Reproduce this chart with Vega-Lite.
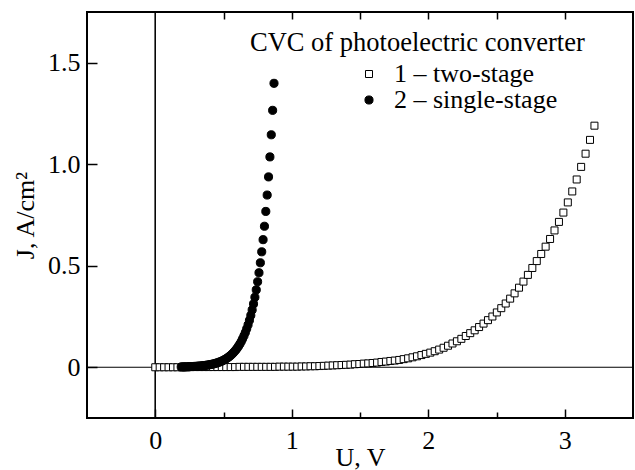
{
  "$schema": "https://vega.github.io/schema/vega-lite/v6.json",
  "width": 546,
  "height": 406,
  "autosize": "none",
  "padding": {"left": 87, "top": 12, "right": 2, "bottom": 52},
  "background": "white",
  "config": {
    "view": {"stroke": "black", "strokeWidth": 2},
    "axis": {
      "domain": false, "grid": false,
      "labelFont": "Liberation Serif", "labelFontSize": 26, "labelColor": "black",
      "titleFont": "Liberation Serif", "titleFontSize": 26, "titleFontWeight": "normal", "titleColor": "black",
      "tickColor": "black", "tickWidth": 1.5
    },
    "legend": {
      "labelFont": "Liberation Serif", "labelFontSize": 26, "labelColor": "black", "labelLimit": 0,
      "symbolStrokeWidth": 1,
      "padding": 0, "rowPadding": 0, "labelOffset": 12
    }
  },
  "title": {
    "text": "CVC of photoelectric converter",
    "anchor": "start", "frame": "group", "orient": "top", "offset": 0,
    "dx": 163, "dy": 66, "baseline": "alphabetic",
    "font": "Liberation Serif", "fontSize": 26.5, "fontWeight": "normal", "color": "black"
  },
  "datasets": {
    "zero": [{"z": 0}],
    "pts": [
      {"U":0.0,"J":0.0,"s":"1"},{"U":0.0325,"J":0.0,"s":"1"},{"U":0.065,"J":0.0,"s":"1"},{"U":0.0975,"J":0.0,"s":"1"},{"U":0.13,"J":0.0,"s":"1"},
      {"U":0.1625,"J":0.0,"s":"1"},{"U":0.195,"J":0.0,"s":"1"},{"U":0.2275,"J":0.0,"s":"1"},{"U":0.26,"J":0.001,"s":"1"},{"U":0.2925,"J":0.001,"s":"1"},
      {"U":0.325,"J":0.001,"s":"1"},{"U":0.3575,"J":0.001,"s":"1"},{"U":0.39,"J":0.001,"s":"1"},{"U":0.4225,"J":0.001,"s":"1"},{"U":0.455,"J":0.001,"s":"1"},
      {"U":0.4875,"J":0.001,"s":"1"},{"U":0.52,"J":0.001,"s":"1"},{"U":0.5525,"J":0.001,"s":"1"},{"U":0.585,"J":0.001,"s":"1"},{"U":0.6175,"J":0.002,"s":"1"},
      {"U":0.65,"J":0.002,"s":"1"},{"U":0.6825,"J":0.002,"s":"1"},{"U":0.715,"J":0.002,"s":"1"},{"U":0.7475,"J":0.002,"s":"1"},{"U":0.78,"J":0.002,"s":"1"},
      {"U":0.8125,"J":0.002,"s":"1"},{"U":0.845,"J":0.002,"s":"1"},{"U":0.8775,"J":0.002,"s":"1"},{"U":0.91,"J":0.003,"s":"1"},{"U":0.9425,"J":0.003,"s":"1"},
      {"U":0.975,"J":0.003,"s":"1"},{"U":1.0075,"J":0.003,"s":"1"},{"U":1.04,"J":0.003,"s":"1"},{"U":1.0725,"J":0.004,"s":"1"},{"U":1.105,"J":0.004,"s":"1"},
      {"U":1.1375,"J":0.005,"s":"1"},{"U":1.17,"J":0.005,"s":"1"},{"U":1.2025,"J":0.006,"s":"1"},{"U":1.235,"J":0.007,"s":"1"},{"U":1.2675,"J":0.008,"s":"1"},
      {"U":1.3,"J":0.009,"s":"1"},{"U":1.3325,"J":0.01,"s":"1"},{"U":1.365,"J":0.011,"s":"1"},{"U":1.3975,"J":0.012,"s":"1"},{"U":1.43,"J":0.013,"s":"1"},
      {"U":1.4625,"J":0.015,"s":"1"},{"U":1.495,"J":0.016,"s":"1"},{"U":1.5275,"J":0.018,"s":"1"},{"U":1.56,"J":0.019,"s":"1"},{"U":1.5925,"J":0.021,"s":"1"},
      {"U":1.625,"J":0.023,"s":"1"},{"U":1.6575,"J":0.026,"s":"1"},{"U":1.69,"J":0.028,"s":"1"},{"U":1.7225,"J":0.031,"s":"1"},{"U":1.755,"J":0.033,"s":"1"},
      {"U":1.7875,"J":0.036,"s":"1"},{"U":1.82,"J":0.04,"s":"1"},{"U":1.8525,"J":0.044,"s":"1"},{"U":1.885,"J":0.049,"s":"1"},{"U":1.9175,"J":0.054,"s":"1"},
      {"U":1.95,"J":0.06,"s":"1"},{"U":1.9825,"J":0.066,"s":"1"},{"U":2.015,"J":0.072,"s":"1"},{"U":2.0475,"J":0.079,"s":"1"},{"U":2.08,"J":0.087,"s":"1"},
      {"U":2.1125,"J":0.096,"s":"1"},{"U":2.145,"J":0.106,"s":"1"},{"U":2.1775,"J":0.117,"s":"1"},{"U":2.21,"J":0.128,"s":"1"},{"U":2.2425,"J":0.14,"s":"1"},
      {"U":2.275,"J":0.154,"s":"1"},{"U":2.3075,"J":0.168,"s":"1"},{"U":2.34,"J":0.182,"s":"1"},{"U":2.3725,"J":0.198,"s":"1"},{"U":2.405,"J":0.215,"s":"1"},
      {"U":2.4375,"J":0.232,"s":"1"},{"U":2.47,"J":0.25,"s":"1"},{"U":2.5025,"J":0.27,"s":"1"},{"U":2.535,"J":0.291,"s":"1"},{"U":2.5675,"J":0.314,"s":"1"},
      {"U":2.6,"J":0.338,"s":"1"},{"U":2.6325,"J":0.364,"s":"1"},{"U":2.665,"J":0.392,"s":"1"},{"U":2.6975,"J":0.422,"s":"1"},{"U":2.73,"J":0.455,"s":"1"},
      {"U":2.7625,"J":0.489,"s":"1"},{"U":2.795,"J":0.523,"s":"1"},{"U":2.8275,"J":0.558,"s":"1"},{"U":2.86,"J":0.594,"s":"1"},{"U":2.8925,"J":0.632,"s":"1"},
      {"U":2.925,"J":0.674,"s":"1"},{"U":2.9575,"J":0.716,"s":"1"},{"U":2.99,"J":0.762,"s":"1"},{"U":3.0225,"J":0.812,"s":"1"},{"U":3.055,"J":0.866,"s":"1"},
      {"U":3.0875,"J":0.925,"s":"1"},{"U":3.12,"J":0.987,"s":"1"},{"U":3.1525,"J":1.052,"s":"1"},{"U":3.185,"J":1.12,"s":"1"},{"U":3.2175,"J":1.19,"s":"1"},
      {"U":0.19,"J":0.0016,"s":"2"},{"U":0.2,"J":0.0017,"s":"2"},{"U":0.21,"J":0.0019,"s":"2"},{"U":0.22,"J":0.0021,"s":"2"},{"U":0.23,"J":0.0023,"s":"2"},
      {"U":0.24,"J":0.0026,"s":"2"},{"U":0.25,"J":0.0028,"s":"2"},{"U":0.26,"J":0.0031,"s":"2"},{"U":0.27,"J":0.0035,"s":"2"},{"U":0.28,"J":0.0038,"s":"2"},
      {"U":0.29,"J":0.0042,"s":"2"},{"U":0.3,"J":0.0047,"s":"2"},{"U":0.31,"J":0.0052,"s":"2"},{"U":0.32,"J":0.0057,"s":"2"},{"U":0.33,"J":0.0063,"s":"2"},
      {"U":0.34,"J":0.007,"s":"2"},{"U":0.35,"J":0.0077,"s":"2"},{"U":0.36,"J":0.0085,"s":"2"},{"U":0.37,"J":0.0094,"s":"2"},{"U":0.38,"J":0.0104,"s":"2"},
      {"U":0.39,"J":0.0115,"s":"2"},{"U":0.4,"J":0.0127,"s":"2"},{"U":0.41,"J":0.0141,"s":"2"},{"U":0.42,"J":0.0155,"s":"2"},{"U":0.43,"J":0.0172,"s":"2"},
      {"U":0.44,"J":0.019,"s":"2"},{"U":0.45,"J":0.021,"s":"2"},{"U":0.46,"J":0.0232,"s":"2"},{"U":0.47,"J":0.0256,"s":"2"},{"U":0.48,"J":0.0283,"s":"2"},
      {"U":0.49,"J":0.0313,"s":"2"},{"U":0.5,"J":0.0346,"s":"2"},{"U":0.51,"J":0.0382,"s":"2"},{"U":0.52,"J":0.0422,"s":"2"},{"U":0.53,"J":0.0467,"s":"2"},
      {"U":0.54,"J":0.0516,"s":"2"},{"U":0.55,"J":0.057,"s":"2"},{"U":0.56,"J":0.063,"s":"2"},{"U":0.57,"J":0.0696,"s":"2"},{"U":0.58,"J":0.077,"s":"2"},
      {"U":0.59,"J":0.0851,"s":"2"},{"U":0.6,"J":0.094,"s":"2"},{"U":0.61,"J":0.1039,"s":"2"},{"U":0.62,"J":0.1148,"s":"2"},{"U":0.63,"J":0.1269,"s":"2"},
      {"U":0.64,"J":0.1402,"s":"2"},{"U":0.65,"J":0.155,"s":"2"},{"U":0.66,"J":0.1713,"s":"2"},{"U":0.67,"J":0.1893,"s":"2"},{"U":0.68,"J":0.2092,"s":"2"},
      {"U":0.69,"J":0.2312,"s":"2"},{"U":0.7,"J":0.2555,"s":"2"},{"U":0.71,"J":0.2824,"s":"2"},{"U":0.72,"J":0.3121,"s":"2"},{"U":0.73,"J":0.3449,"s":"2"},
      {"U":0.74,"J":0.3812,"s":"2"},{"U":0.75,"J":0.4213,"s":"2"},{"U":0.76,"J":0.4656,"s":"2"},{"U":0.77,"J":0.5146,"s":"2"},{"U":0.78,"J":0.5687,"s":"2"},
      {"U":0.79,"J":0.6285,"s":"2"},{"U":0.8,"J":0.6946,"s":"2"},{"U":0.81,"J":0.7676,"s":"2"},{"U":0.82,"J":0.8483,"s":"2"},{"U":0.83,"J":0.9376,"s":"2"},
      {"U":0.84,"J":1.0362,"s":"2"},{"U":0.85,"J":1.1451,"s":"2"},{"U":0.86,"J":1.2656,"s":"2"},{"U":0.87,"J":1.3987,"s":"2"}
    ]
  },
  "resolve": {"axis": {"x": "independent"}},
  "layer": [
    {
      "data": {"name": "zero"},
      "mark": {"type": "rule", "color": "black", "strokeWidth": 1.2},
      "encoding": {
        "x": {"field": "z", "type": "quantitative", "scale": {"domain": [-0.5, 3.5], "nice": false, "zero": false},
          "axis": {"orient": "bottom", "values": [0.5, 1.5, 2.5], "tickSize": -6, "labels": false, "title": null}}
      }
    },
    {
      "data": {"name": "zero"},
      "mark": {"type": "rule", "color": "black", "strokeWidth": 1.2},
      "encoding": {
        "x": {"field": "z", "type": "quantitative", "scale": {"domain": [-0.5, 3.5], "nice": false, "zero": false},
          "axis": {"orient": "top", "values": [0.5, 1, 1.5, 2, 2.5, 3], "tickSize": -7, "labels": false, "title": null}}
      }
    },
    {
      "data": {"name": "zero"},
      "mark": {"type": "rule", "color": "black", "strokeWidth": 1.2},
      "encoding": {
        "y": {"field": "z", "type": "quantitative", "scale": {"domain": [-0.25, 1.75], "nice": false, "zero": false}}
      }
    },
    {
      "data": {"name": "pts"},
      "mark": {"type": "point", "filled": true, "strokeWidth": 1, "opacity": 1},
      "encoding": {
        "x": {"field": "U", "type": "quantitative", "scale": {"domain": [-0.5, 3.5], "nice": false, "zero": false},
          "axis": {"orient": "bottom", "values": [0, 1, 2, 3], "tickSize": -9, "labelPadding": 18, "title": "U, V", "titlePadding": -9}},
        "y": {"field": "J", "type": "quantitative", "scale": {"domain": [-0.25, 1.75], "nice": false, "zero": false},
          "axis": {"values": [0, 0.5, 1, 1.5], "tickSize": -10, "labelPadding": 17,
            "labelExpr": "datum.value == 0 ? '0' : format(datum.value, '.1f')",
            "title": "J, A/cm²", "titlePadding": 9}},
        "shape": {"field": "s", "type": "nominal", "scale": {"domain": ["1", "2"], "range": ["square", "circle"]},
          "legend": {"orient": "none", "legendX": 269, "legendY": 49, "title": null,
            "labelExpr": "datum.value == '1' ? '1 – two-stage' : '2 – single-stage'"}},
        "fill": {"field": "s", "type": "nominal", "scale": {"domain": ["1", "2"], "range": ["white", "black"]},
          "legend": {"orient": "none", "legendX": 269, "legendY": 49, "title": null,
            "labelExpr": "datum.value == '1' ? '1 – two-stage' : '2 – single-stage'"}},
        "stroke": {"field": "s", "type": "nominal", "scale": {"domain": ["1", "2"], "range": ["black", "black"]},
          "legend": {"orient": "none", "legendX": 269, "legendY": 49, "title": null,
            "labelExpr": "datum.value == '1' ? '1 – two-stage' : '2 – single-stage'"}},
        "size": {"field": "s", "type": "nominal", "scale": {"domain": ["1", "2"], "range": [49, 66]},
          "legend": {"orient": "none", "legendX": 269, "legendY": 49, "title": null,
            "labelExpr": "datum.value == '1' ? '1 – two-stage' : '2 – single-stage'"}}
      }
    }
  ]
}
